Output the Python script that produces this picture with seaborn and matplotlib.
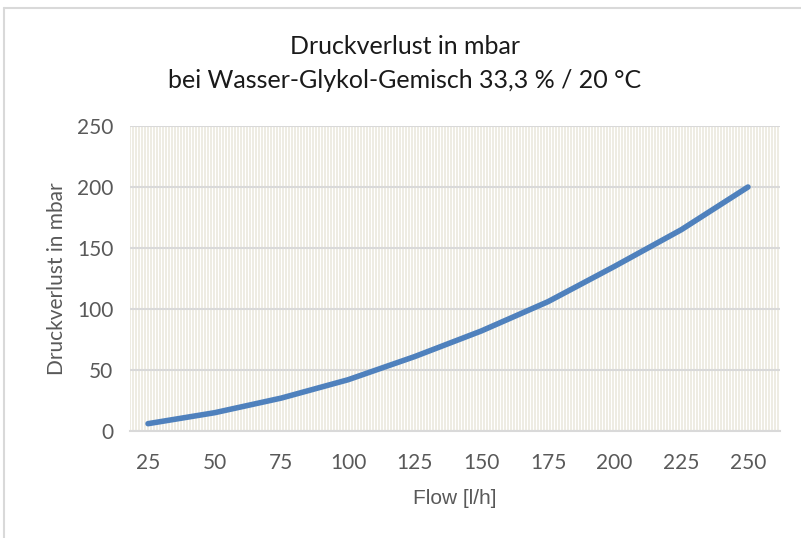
import matplotlib
matplotlib.use("Agg")
import matplotlib.pyplot as plt
from matplotlib.lines import Line2D
from matplotlib.ticker import MultipleLocator
import seaborn as sns
import pandas as pd

# Druckverlust-Kennlinie
flow = [25, 50, 75, 100, 125, 150, 175, 200, 225, 250]
druckverlust = [6, 15, 27, 42, 61, 82, 106, 135, 165, 200]
x_ticks = [25, 50, 75, 100, 125, 150, 175, 200, 225, 250]
y_ticks = [0, 50, 100, 150, 200, 250]

df = pd.DataFrame({"flow": flow, "dp": druckverlust})

sns.set_theme(style="white")
plt.rcParams["font.family"] = ["Lato", "DejaVu Sans"]

LINE_BLUE = "#4F81BD"
TEXT_GREY = "#595959"

fig = plt.figure(figsize=(8.01, 5.38), dpi=100)
ax = fig.add_axes([130 / 801, 1 - 431 / 538, 650 / 801, 305 / 538])

# very dense vertical minor grid (Excel look), ~3 px apart
# offset so no minor line falls on a major tick (those would be dropped)
ax.xaxis.set_minor_locator(MultipleLocator(1.125, offset=0.3))
ax.grid(which="minor", axis="x", color="#E9E7DB", linewidth=1.1)
ax.grid(which="major", axis="x", visible=False)
ax.grid(which="major", axis="y", color="#D9D9D9", linewidth=1.5)
ax.set_axisbelow(True)

sns.lineplot(data=df, x="flow", y="dp", ax=ax, color=LINE_BLUE,
             linewidth=4, solid_capstyle="round")

ax.set_xlim(18.25, 262)
ax.set_ylim(0, 250)
ax.set_xticks(x_ticks)
ax.set_yticks(y_ticks)
ax.tick_params(axis="both", which="both", length=0, labelsize=15, colors=TEXT_GREY)
ax.tick_params(axis="x", pad=16)
ax.tick_params(axis="y", pad=12)

for side in ["top", "right", "left"]:
    ax.spines[side].set_visible(False)
ax.spines["bottom"].set_color("#D9D9D9")
ax.spines["bottom"].set_linewidth(1.5)

ax.set_xlabel("Flow [l/h]", family=["Liberation Sans", "DejaVu Sans"],
              fontsize=15, color=TEXT_GREY, labelpad=11)
ax.set_ylabel("Druckverlust in mbar", fontsize=15, color=TEXT_GREY, labelpad=7)

fig.text(405 / 801, 1 - 47 / 538, "Druckverlust in mbar", ha="center", va="center",
         fontsize=18, color="#1a1a1a")
fig.text(405 / 801, 1 - 80 / 538, "bei Wasser-Glykol-Gemisch 33,3 % / 20 °C",
         ha="center", va="center", fontsize=18, color="#1a1a1a")

# outer chart frame (cut off at right and bottom)
fig.add_artist(Line2D([4 / 801, 4 / 801], [0, 1 - 8 / 538], color="#D9D9D9",
                      linewidth=1.5, transform=fig.transFigure))
fig.add_artist(Line2D([4 / 801, 1], [1 - 8 / 538, 1 - 8 / 538], color="#D9D9D9",
                      linewidth=1.5, transform=fig.transFigure))

fig.savefig("out.png", dpi=100)
